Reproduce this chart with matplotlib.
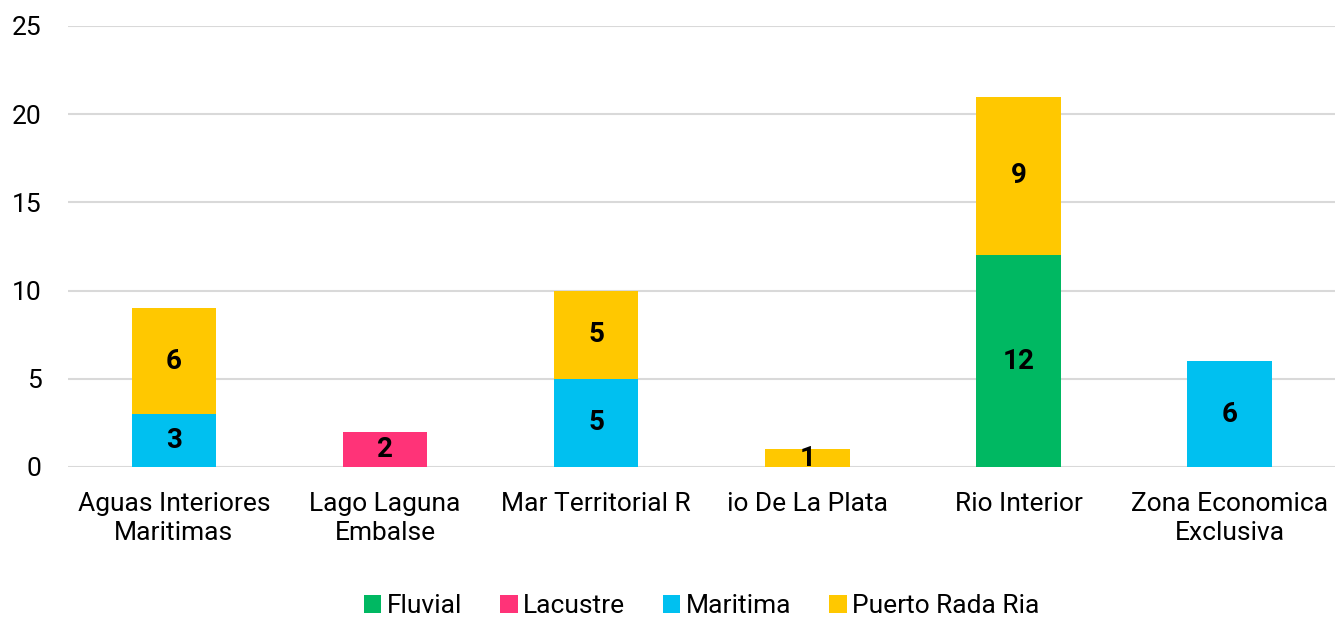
import matplotlib.pyplot as plt
import numpy as np

plt.rcParams['font.family'] = ['Roboto', 'DejaVu Sans']

categories = ["Aguas Interiores\nMaritimas", "Lago Laguna\nEmbalse", "Mar Territorial R",
              "io De La Plata", "Rio Interior", "Zona Economica\nExclusiva"]
series_names = ["Fluvial", "Lacustre", "Maritima", "Puerto Rada Ria"]
fluvial = [0, 0, 0, 0, 12, 0]
lacustre = [0, 2, 0, 0, 0, 0]
maritima = [3, 0, 5, 0, 0, 6]
puerto = [6, 0, 5, 1, 9, 0]
colors = ["#00b862", "#ff3378", "#00c0f0", "#ffc800"]

fig = plt.figure(figsize=(13.38, 6.19), dpi=100)
ax = fig.add_axes([0.051, 0.2456, 0.947, 0.7124])

x = np.arange(len(categories))
bottom = np.zeros(len(categories))
for name, vals, col in zip(series_names, [fluvial, lacustre, maritima, puerto], colors):
    vals = np.array(vals, dtype=float)
    ax.bar(x, vals, 0.4, bottom=bottom, color=col, label=name, zorder=3)
    for xi, v, b in zip(x, vals, bottom):
        if v > 0:
            ax.text(xi, b + v / 2, f"{int(v)}", ha='center', va='center',
                    fontsize=20, fontweight='bold', color='black', zorder=4)
    bottom += vals

ax.set_xlim(-0.5, len(categories) - 0.5)
ax.set_ylim(0, 25)
ax.set_yticks(range(0, 26, 5))
ax.set_xticks(x)
ax.set_xticklabels(categories, fontsize=19, linespacing=1.25)
ax.tick_params(axis='y', labelsize=19, length=0, pad=19)
ax.tick_params(axis='x', length=0, pad=18)
ax.grid(axis='y', color='#d9d9d9', linewidth=1.5, zorder=0)
for s in ax.spines.values():
    s.set_visible(False)

ax.legend(loc='upper center', bbox_to_anchor=(0.5, -0.235), ncol=4, frameon=False,
          fontsize=19, handlelength=0.65, handleheight=0.65, handletextpad=0.2,
          columnspacing=1.45)

fig.savefig("out.png", dpi=100)
